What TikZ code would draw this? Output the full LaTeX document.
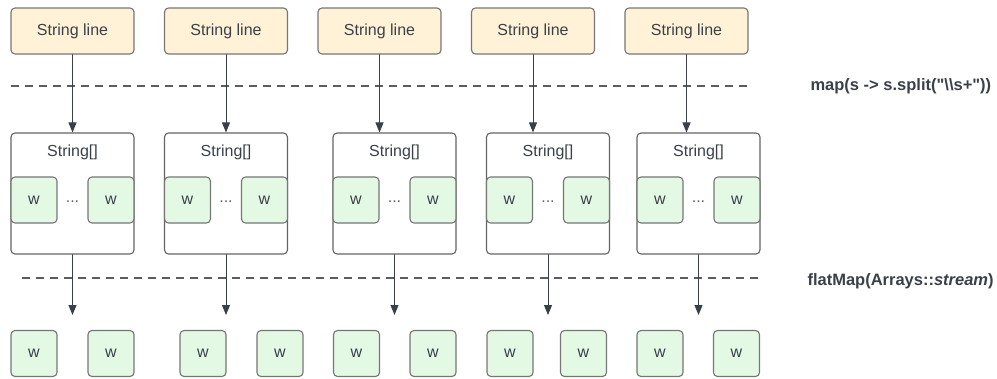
\documentclass[tikz,border=0pt]{standalone}
\usepackage{fontspec}
\setmainfont{Liberation Sans}[Ligatures=TeXOff]
\usetikzlibrary{arrows.meta}
\definecolor{cream}{RGB}{255,242,214}
\definecolor{mint}{RGB}{227,249,227}
\definecolor{rim}{RGB}{118,118,118}
\definecolor{ink}{RGB}{58,64,74}

\begin{document}
\begin{tikzpicture}[x=1pt,y=-1pt,line cap=round,
  font=\fontsize{16}{19}\selectfont,
  linebox/.style={draw=rim,line width=1.1pt,fill=cream,rounded corners=4pt,minimum width=123pt,minimum height=46pt,text=ink,inner sep=0pt},
  arraybox/.style={draw=rim!85!black,line width=1.1pt,fill=white,rounded corners=4pt,minimum width=123pt,minimum height=121pt,inner sep=0pt},
  wordbox/.style={draw=rim,line width=1.1pt,fill=mint,rounded corners=4pt,minimum size=46pt,text=ink,inner sep=0pt},
  flow/.style={draw=ink,line width=0.9pt,-{Triangle[length=10pt,width=8pt]}},
  stage/.style={draw=ink!85,line width=1.3pt,dash pattern=on 8pt off 6pt,line cap=butt},
  oplabel/.style={anchor=west,text=ink,font=\fontsize{16.5}{19}\selectfont\bfseries}]
  \useasboundingbox (0,0) rectangle (997,378);
  % stage separators and the two stream operations
  \coordinate (s1a) at (11,86); \coordinate (s1b) at (748,86);
  \coordinate (s2a) at (22,278); \coordinate (s2b) at (760,278);
  \draw[stage] (s1a) -- (s1b);
  \draw[stage] (s2a) -- (s2b);
  \node[oplabel] (mapop) at (807,86) {map(s -> s.split("\textbackslash\textbackslash s+"))};
  \node[oplabel] (flatop) at (804,281) {flatMap(Arrays::\textit{stream})};
  % one column per input line: x of line box / x of array box / x of the two output words
  \foreach \i/\xl/\xa/\wl/\wr in {1/72.5/72.5/34/111, 2/226/226/203/280, 3/379.5/394.5/356.5/433, 4/533/548/510/583.5, 5/686.5/698.5/660/736.5}{
    \node[linebox] (line\i) at (\xl,31) {String line};
    \node[arraybox] (arr\i) at (\xa,193.5) {};
    \node[text=ink] (lbl\i) at (\xa,152) {String[]};
    \node[wordbox] (al\i) at (\xa-38.5,200) {w};
    \node[wordbox] (ar\i) at (\xa+38.5,200) {w};
    \node[text=ink!80] (dots\i) at (\xa,202) {...};
    \node[wordbox] (ol\i) at (\wl,353.5) {w};
    \node[wordbox] (or\i) at (\wr,353.5) {w};
    \coordinate (tip\i) at (\xa,315);
    \draw[flow] (line\i.south) -- (line\i.south |- arr\i.north);
    \draw[flow] (arr\i.south) -- (tip\i);
  }
\end{tikzpicture}
\end{document}
